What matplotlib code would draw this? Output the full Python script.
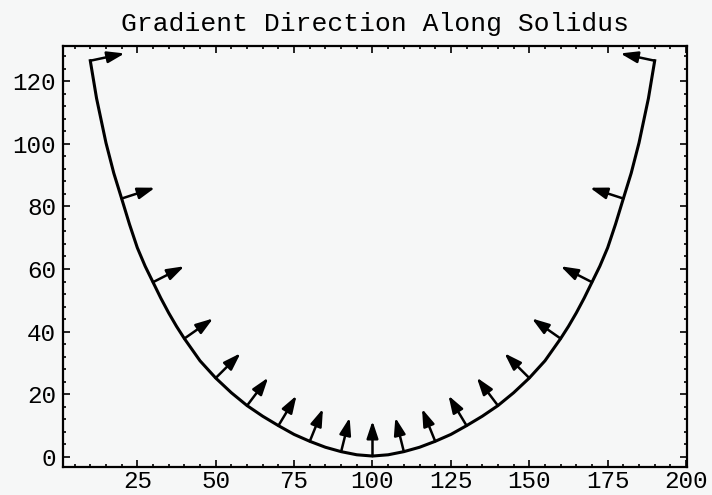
import numpy as np
import matplotlib
matplotlib.use("Agg")
import matplotlib.pyplot as plt
from matplotlib.ticker import MultipleLocator

# solidus curve, denser sampling on the steep flanks
x_curve = [10, 12, 15, 17.5, 20, 22.5, 25, 27.5, 30, 32.5, 35, 37.5, 40, 45, 50, 55, 60,
           65, 70, 75, 80, 85, 90, 95, 100, 105, 110, 115, 120, 125, 130, 135, 140,
           145, 150, 155, 160, 162.5, 165, 167.5, 170, 172.5, 175, 177.5, 180, 182.5,
           185, 188, 190]
y_curve = [126.5, 114.5, 100.3, 90.6, 82.5, 74.3, 66.8, 60.9, 55.8, 50.7, 46.0, 41.7,
           37.8, 30.7, 25.2, 20.5, 16.4, 13.0, 10.0, 7.2, 5.0, 3.1, 1.7, 0.7, 0.3,
           0.7, 1.7, 3.1, 5.0, 7.2, 10.0, 13.0, 16.4, 20.5, 25.2, 30.7, 37.8, 41.7,
           46.0, 50.7, 55.8, 60.9, 66.8, 74.3, 82.5, 90.6, 100.3, 114.5, 126.5]

# gradient arrows: base point on the curve and direction (degrees)
x_arrow = [10, 20, 30, 40, 50, 60, 70, 80, 90, 100, 110, 120, 130, 140, 150, 160, 170, 180, 190]
y_arrow = [126.5, 82.5, 55.8, 37.8, 25.2, 16.4, 10.0, 5.0, 1.7, 0.3, 1.7, 5.0, 10.0,
           16.4, 25.2, 37.8, 55.8, 82.5, 126.5]
angle_arrow = [12, 18, 27, 35, 45, 53, 59, 68, 76, 90, 104, 112, 121, 127, 135, 145,
               153, 162, 168]
arrow_len = 11.2

bg = '#f6f7f7'
plt.rcParams['font.family'] = ['Liberation Mono', 'DejaVu Sans Mono']

fig = plt.figure(figsize=(7.12, 4.95), dpi=100, facecolor=bg)
ax = fig.add_axes([63 / 712, 28 / 495, 624 / 712, 421 / 495], facecolor=bg)

ax.plot(x_curve, y_curve, color='black', lw=2.2, solid_joinstyle='round')

for xa, ya, ang in zip(x_arrow, y_arrow, angle_arrow):
    t = np.deg2rad(ang)
    tip = (xa + arrow_len * np.cos(t), ya + arrow_len * np.sin(t))
    ax.annotate('', xy=tip, xytext=(xa, ya),
                arrowprops=dict(arrowstyle='-|>,head_length=0.45,head_width=0.15',
                                mutation_scale=23, color='black', lw=1.8,
                                shrinkA=0, shrinkB=0))

ax.set_xlim(1.3, 200.3)
ax.set_ylim(-3.2, 131.2)

ax.xaxis.set_minor_locator(MultipleLocator(5))
ax.yaxis.set_minor_locator(MultipleLocator(4))
ax.set_xticks([25, 50, 75, 100, 125, 150, 175, 200])
ax.set_yticks([0, 20, 40, 60, 80, 100, 120])

ax.tick_params(which='both', direction='in', top=True, right=True, width=1.2,
               labelsize=17.5, pad=2.5)
ax.tick_params(axis='y', pad=5)
ax.tick_params(which='major', length=5)
ax.tick_params(which='minor', length=2.5)
for s in ax.spines.values():
    s.set_linewidth(1.6)

ax.set_title('Gradient Direction Along Solidus', fontsize=19, pad=11)

fig.savefig('out.png', dpi=100, facecolor=bg)
